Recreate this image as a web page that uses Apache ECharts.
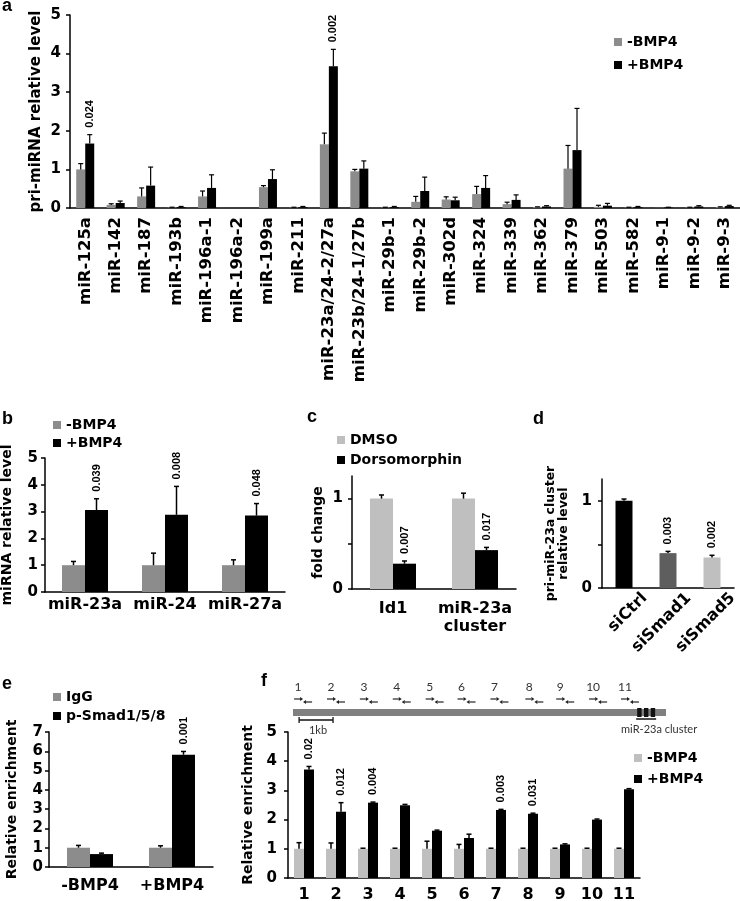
<!DOCTYPE html>
<html><head><meta charset="utf-8">
<script src="https://cdn.jsdelivr.net/npm/echarts@6/dist/echarts.min.js"></script>
<style>html,body{margin:0;padding:0;background:#fff}#c{width:740px;height:901px}</style>
</head><body><div id="c"></div>
<script>
// ---------- DATA ----------
// Panel a
const aCategories = ['miR-125a','miR-142','miR-187','miR-193b','miR-196a-1','miR-196a-2','miR-199a','miR-211','miR-23a/24-2/27a','miR-23b/24-1/27b','miR-29b-1','miR-29b-2','miR-302d','miR-324','miR-339','miR-362','miR-379','miR-503','miR-582','miR-9-1','miR-9-2','miR-9-3'];
const aMinus    = [1.00,0.08,0.30,0.01,0.30,0.00,0.54,0.01,1.65,0.95,0.01,0.16,0.22,0.36,0.10,0.02,1.02,0.03,0.01,0.005,0.01,0.02];
const aMinusErr = [0.15,0.03,0.22,0.01,0.14,0.00,0.04,0.01,0.29,0.05,0.01,0.14,0.07,0.20,0.05,0.01,0.60,0.04,0.01,0.00,0.01,0.01];
const aPlus     = [1.67,0.13,0.58,0.02,0.52,0.00,0.75,0.02,3.67,1.02,0.02,0.44,0.20,0.52,0.21,0.04,1.50,0.06,0.02,0.01,0.04,0.05];
const aPlusErr  = [0.23,0.05,0.48,0.02,0.34,0.00,0.24,0.02,0.44,0.20,0.02,0.36,0.08,0.32,0.13,0.02,1.08,0.06,0.02,0.01,0.02,0.02];
const aPvals    = ['0.024','','','','','','','','0.002','','','','','','','','','','','','',''];
const aTicks    = [0, 5, 1];
// Panel b
const bCategories = ['miR-23a','miR-24','miR-27a'];
const bMinus    = [1.00,1.00,1.00];
const bMinusErr = [0.14,0.45,0.20];
const bPlus     = [3.06,2.88,2.85];
const bPlusErr  = [0.42,1.06,0.45];
const bPvals    = ['0.039','0.008','0.048'];
// Panel c
const cCategories = ['Id1','miR-23a\ncluster'];
const cDMSO     = [1.00,1.00];
const cDMSOErr  = [0.04,0.06];
const cDorso    = [0.28,0.43];
const cDorsoErr = [0.03,0.03];
const cPvals    = ['0.007','0.017'];
const cTickValues = [0, 0.5, 1];
const cLabelValues = [0, 1];
// Panel d
const dCategories = ['siCtrl','siSmad1','siSmad5'];
const dValues   = [1.00,0.40,0.35];
const dErr      = [0.02,0.02,0.025];
const dPvals    = ['','0.003','0.002'];
// Panel e
const eCategories = ['-BMP4','+BMP4'];
const eIgG      = [1.00,1.00];
const eIgGErr   = [0.12,0.10];
const ePSmad    = [0.67,5.82];
const ePSmadErr = [0.05,0.17];
const ePvals    = ['','0.001'];
// Panel f
const fCategories = ['1','2','3','4','5','6','7','8','9','10','11'];
const fMinus    = [1,1,1,1,1,1,1,1,1,1,1];
const fMinusErr = [0.21,0.20,0.02,0.02,0.26,0.15,0.02,0.02,0.02,0.02,0.02];
const fPlus     = [3.72,2.27,2.58,2.49,1.62,1.37,2.33,2.20,1.15,2.00,3.04];
const fPlusErr  = [0.10,0.31,0.02,0.03,0.02,0.13,0.02,0.02,0.02,0.02,0.02];
const fPvals    = ['0.02','0.012','0.004','','','','0.003','0.031','','',''];
// Panel f gene diagram (kb)
const fGeneKb = 11;
const fPrimerKb = [0.15,1.12,2.09,3.06,4.03,4.97,5.94,6.97,7.88,8.85,9.79];
const fClusterKb = [10.12,10.71];
const fClusterStripesKb = [10.15,10.35,10.55];
const fScaleKb = [0.18,1.18];

// ---------- STYLE HELPERS ----------
const FONT = '"DejaVu Sans", sans-serif';
const PFONT = 'bold 11px "Liberation Sans", sans-serif';
const GRAY = '#8c8c8c', LIGHT = '#bfbfbf', DARK = '#5e5e5e', BLACK = '#000';

function yAx(gi, max, interval, name, nameGap, labelMargin, extra) {
  const ax = {
    type:'value', gridIndex: gi, min:0, max, interval,
    axisLine:{show:true, onZero:false, lineStyle:{color:'#000', width:1.5}},
    axisTick:{show:true, inside:false, length:4, lineStyle:{color:'#000', width:1.5}},
    axisLabel:{color:'#000', fontFamily:FONT, fontWeight:'bold', fontSize:15, margin:labelMargin},
    splitLine:{show:false},
    name, nameLocation:'middle', nameGap, nameRotate:90, nameMoveOverlap:false,
    nameTextStyle:{color:'#000', fontFamily:FONT, fontWeight:'bold', fontSize:14, lineHeight:13}
  };
  if (extra) {
    if (extra.tickValues) ax.axisTick.customValues = extra.tickValues;
    if (extra.labelValues) ax.axisLabel.customValues = extra.labelValues;
    if (extra.nameSize) ax.nameTextStyle.fontSize = extra.nameSize;
  }
  return ax;
}
function xAx(gi, data, labelOpts) {
  return {type:'category', gridIndex: gi, data,
    axisLine:{show:true, onZero:false, lineStyle:{color:'#000', width:1.5}},
    axisTick:{show:false},
    axisLabel:Object.assign({color:'#000', fontFamily:FONT, fontWeight:'bold', fontSize:16, interval:0}, labelOpts||{}),
    splitLine:{show:false}};
}
function barS(name, gi, values, color, barW) {
  return {type:'bar', name, xAxisIndex:gi, yAxisIndex:gi, data: values, barWidth: barW, barGap:'0%',
    itemStyle:{color}, silent:true, animation:false};
}
function errS(gi, values, errs, pvals, barW, side, lw) {
  const data = values.map((v, i) => [i, v, errs[i]]);
  const w = lw || 1.5;
  return {type:'custom', xAxisIndex:gi, yAxisIndex:gi, data, z:5, silent:true, animation:false,
    renderItem(params, api) {
      const i = api.value(0), v = api.value(1), e = api.value(2);
      const base = api.coord([i, v]);
      const top = api.coord([i, v + e]);
      const x = base[0] + side * barW / 2;
      const ch = [];
      if (e > 0) {
        ch.push({type:'line', shape:{x1:x, y1:base[1], x2:x, y2:top[1]}, style:{stroke:'#000', lineWidth:w}});
        ch.push({type:'line', shape:{x1:x-2.5, y1:top[1], x2:x+2.5, y2:top[1]}, style:{stroke:'#000', lineWidth:w}});
      }
      const p = pvals ? pvals[params.dataIndex] : '';
      if (p) ch.push({type:'text', x:x, y:top[1]-7, rotation:Math.PI/2,
        style:{text:p, font:PFONT, fill:'#000', align:'left', verticalAlign:'middle'}});
      return {type:'group', children: ch};
    }};
}
function legendOf(names, left, top, gap) {
  return {show:true, data:names.map(n => ({name:n, icon:'rect'})), left, top, orient:'vertical',
    itemGap:gap, itemWidth:8, itemHeight:8, padding:0, selectedMode:false,
    formatter: n => n.split('|')[1],
    textStyle:{color:'#000', fontFamily:FONT, fontWeight:'bold', fontSize:14}};
}
const grid = (left, top, width, height) => ({left, top, width, height, outerBoundsMode:'none', containLabel:false});

// ---------- OPTION ----------
const option = {
  backgroundColor:'#fff',
  animation:false,
  grid:[
    grid(70, 15, 670, 193),   // a
    grid(45, 458, 240, 134),  // b
    grid(352, 476, 164, 113), // c
    grid(602, 479, 132, 109), // d
    grid(49, 732, 164, 135),  // e
    grid(288, 732, 352, 146), // f
    grid(293, 680, 373, 50)   // f diagram
  ],
  xAxis:[
    xAx(0, aCategories, {rotate:90, margin:9, fontSize:16.5}),
    xAx(1, bCategories, {margin:5}),
    xAx(2, cCategories, {margin:11, lineHeight:18}),
    xAx(3, dCategories, {show:false}),
    xAx(4, eCategories, {margin:11}),
    xAx(5, fCategories, {margin:9}),
    {type:'value', gridIndex:6, min:0, max:fGeneKb, show:false}
  ],
  yAxis:[
    yAx(0, aTicks[1], aTicks[2], 'pri-miRNA relative level', 27, 9, {nameSize:15}),
    yAx(1, 5, 1, 'miRNA relative level', 31, 7),
    yAx(2, 1.25, 0.25, 'fold change', 27, 9, {tickValues:cTickValues, labelValues:cLabelValues}),
    yAx(3, 1.25, 0.25, 'pri-miR-23a cluster\nrelative level', 32, 10, {tickValues:cTickValues, labelValues:cLabelValues, nameSize:12.5}),
    yAx(4, 7, 1, 'Relative enrichment', 30, 6),
    yAx(5, 5, 1, 'Relative enrichment', 33, 11),
    {type:'value', gridIndex:6, min:0, max:1, show:false}
  ],
  legend:[
    legendOf(['a|-BMP4','a|+BMP4'], 614, 35, 9),
    legendOf(['b|-BMP4','b|+BMP4'], 53, 418, 4),
    legendOf(['c|DMSO','c|Dorsomorphin'], 337, 433, 6),
    legendOf(['e|IgG','e|p-Smad1/5/8'], 53, 690, 5),
    legendOf(['f|-BMP4','f|+BMP4'], 634, 751, 7)
  ],
  graphic:[
    {type:'text', x:2, y:6, style:{text:'a', font:'bold 18px "Liberation Sans"', fill:'#000', verticalAlign:'middle'}},
    {type:'text', x:2, y:419, style:{text:'b', font:'bold 18px "Liberation Sans"', fill:'#000', verticalAlign:'middle'}},
    {type:'text', x:307, y:417, style:{text:'c', font:'bold 18px "Liberation Sans"', fill:'#000', verticalAlign:'middle'}},
    {type:'text', x:533, y:419, style:{text:'d', font:'bold 18px "Liberation Sans"', fill:'#000', verticalAlign:'middle'}},
    {type:'text', x:2, y:684, style:{text:'e', font:'bold 18px "Liberation Sans"', fill:'#000', verticalAlign:'middle'}},
    {type:'text', x:261, y:681, style:{text:'f', font:'bold 18px "Liberation Sans"', fill:'#000', verticalAlign:'middle'}}
  ],
  series:[
    // a
    barS('a|-BMP4', 0, aMinus, GRAY, 9),
    barS('a|+BMP4', 0, aPlus, BLACK, 9),
    errS(0, aMinus, aMinusErr, null, 9, -1, 1.2),
    errS(0, aPlus, aPlusErr, aPvals, 9, 1, 1.2),
    // b
    barS('b|-BMP4', 1, bMinus, GRAY, 23),
    barS('b|+BMP4', 1, bPlus, BLACK, 23),
    errS(1, bMinus, bMinusErr, null, 23, -1),
    errS(1, bPlus, bPlusErr, bPvals, 23, 1),
    // c
    barS('c|DMSO', 2, cDMSO, LIGHT, 23),
    barS('c|Dorsomorphin', 2, cDorso, BLACK, 23),
    errS(2, cDMSO, cDMSOErr, null, 23, -1),
    errS(2, cDorso, cDorsoErr, cPvals, 23, 1),
    // d
    {type:'bar', xAxisIndex:3, yAxisIndex:3, barWidth:17, silent:true, animation:false,
      data: dValues.map((v, i) => ({value:v, itemStyle:{color:[BLACK, DARK, LIGHT][i]}}))},
    errS(3, dValues, dErr, dPvals, 17, 0),
    {type:'custom', xAxisIndex:3, yAxisIndex:3, silent:true, animation:false, clip:false,
      data: dCategories.map((c, i) => [i, 0]),
      renderItem(params, api) {
        const p = api.coord([api.value(0), 0]);
        return {type:'text', x:p[0] + 15, y:p[1] + 2, rotation:45 * Math.PI / 180,
          style:{text:dCategories[params.dataIndex], font:'bold 16px "DejaVu Sans"', fill:'#000', align:'right', verticalAlign:'top'}};
      }},
    // e
    barS('e|IgG', 4, eIgG, GRAY, 23),
    barS('e|p-Smad1/5/8', 4, ePSmad, BLACK, 23),
    errS(4, eIgG, eIgGErr, null, 23, -1),
    errS(4, ePSmad, ePSmadErr, ePvals, 23, 1),
    // f
    barS('f|-BMP4', 5, fMinus, LIGHT, 10),
    barS('f|+BMP4', 5, fPlus, BLACK, 10),
    errS(5, fMinus, fMinusErr, null, 10, -1),
    errS(5, fPlus, fPlusErr, fPvals, 10, 1),
    // f diagram: gene
    {type:'custom', xAxisIndex:6, yAxisIndex:6, silent:true, animation:false, data:[[fGeneKb, 0]],
      renderItem(params, api) {
        const top = params.coordSys.y;
        const X = kb => api.coord([kb, 0])[0];
        const ch = [];
        ch.push({type:'rect', shape:{x:X(0), y:top+29, width:X(api.value(0))-X(0), height:7}, style:{fill:'#808080'}});
        fClusterStripesKb.forEach(s => ch.push({type:'rect', shape:{x:X(s), y:top+28, width:X(s+0.13)-X(s), height:9}, style:{fill:'#111'}}));
        ch.push({type:'line', shape:{x1:X(fClusterKb[0]), y1:top+39, x2:X(fClusterKb[1]), y2:top+39}, style:{stroke:'#111', lineWidth:1.5}});
        ch.push({type:'text', x:X(fClusterKb[1]) + 41, y:top+49, style:{text:'miR-23a cluster', font:'11px Lato, "Open Sans", sans-serif', fill:'#333', align:'right', verticalAlign:'middle'}});
        const s0 = X(fScaleKb[0]), s1 = X(fScaleKb[1]);
        ch.push({type:'line', shape:{x1:s0, y1:top+40, x2:s1, y2:top+40}, style:{stroke:'#111', lineWidth:1.3}});
        ch.push({type:'line', shape:{x1:s0, y1:top+37, x2:s0, y2:top+43}, style:{stroke:'#111', lineWidth:1.3}});
        ch.push({type:'line', shape:{x1:s1, y1:top+37, x2:s1, y2:top+43}, style:{stroke:'#111', lineWidth:1.3}});
        ch.push({type:'text', x:(s0+s1)/2 + 2, y:top+50, style:{text:'1kb', font:'11px Lato, "Open Sans", sans-serif', fill:'#333', align:'center', verticalAlign:'middle'}});
        return {type:'group', children:ch};
      }},
    // f diagram: primers
    {type:'custom', xAxisIndex:6, yAxisIndex:6, silent:true, animation:false,
      data: fPrimerKb.map((k, i) => [k, 0]),
      renderItem(params, api) {
        const top = params.coordSys.y;
        const x = api.coord([api.value(0), 0])[0];
        const ch = [];
        ch.push({type:'text', x:x, y:top+7, style:{text:fCategories[params.dataIndex], font:'12px Lato, "Open Sans", sans-serif', fill:'#333', align:'center', verticalAlign:'middle'}});
        const ry = top + 19, ly = top + 22;
        ch.push({type:'line', shape:{x1:x-4, y1:ry, x2:x+2, y2:ry}, style:{stroke:'#222', lineWidth:1.2}});
        ch.push({type:'polygon', shape:{points:[[x+2, ry-2], [x+5, ry], [x+2, ry+2]]}, style:{fill:'#222'}});
        const lx = x + 10;
        ch.push({type:'line', shape:{x1:lx-2, y1:ly, x2:lx+4, y2:ly}, style:{stroke:'#222', lineWidth:1.2}});
        ch.push({type:'polygon', shape:{points:[[lx-2, ly-2], [lx-5, ly], [lx-2, ly+2]]}, style:{fill:'#222'}});
        return {type:'group', children:ch};
      }}
  ]
};
const chart = echarts.init(document.getElementById('c'), null, {renderer:'canvas'});
chart.setOption(option);
</script></body></html>
